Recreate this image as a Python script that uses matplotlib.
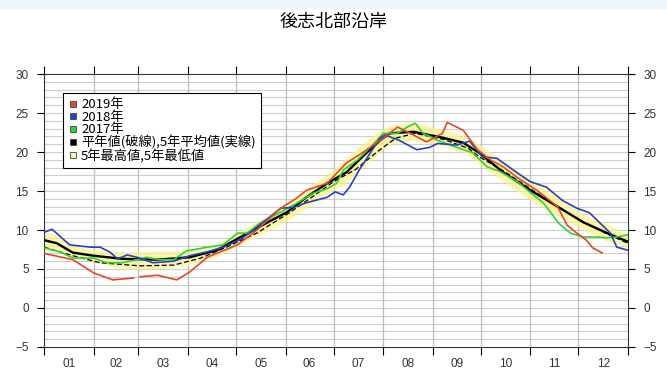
import numpy as np
import matplotlib.pyplot as plt
from matplotlib.lines import Line2D
from matplotlib.patches import Rectangle

plt.rcParams['font.family'] = ['Noto Sans CJK JP', 'DejaVu Sans']

# 月ラベル
months = ["01", "02", "03", "04", "05", "06", "07", "08", "09", "10", "11", "12"]
month_start = [0, 31, 59, 90, 120, 151, 181, 212, 243, 273, 304, 334, 365]

# 2019年 (通日, 水温)
d2019 = [0, 18, 31, 43, 56, 58, 60, 71, 83, 91, 102, 121, 133, 148, 158, 164,
         177, 189, 199, 210, 221, 229, 239, 249, 252, 262, 271, 279, 287, 296,
         308, 321, 327, 333, 339, 343, 349]
t2019 = [7.0, 6.2, 4.5, 3.6, 3.85, np.nan, 4.0, 4.2, 3.6, 4.6, 6.5, 8.1, 10.0,
         12.8, 14.1, 15.1, 16.0, 18.6, 19.9, 21.5, 23.2, 22.4, 21.3, 22.4, 23.8,
         22.8, 20.3, 19.0, 18.1, 16.7, 15.1, 13.0, 10.6, 9.6, 8.7, 7.7, 7.05]

# 2018年
d2018 = [0, 5, 16, 29, 35, 41, 46, 52, 58, 60, 68, 81, 91, 102, 112, 122, 129,
         137, 148, 156, 164, 177, 182, 187, 191, 197, 204, 210, 213, 222, 233,
         241, 246, 258, 266, 274, 283, 296, 304, 314, 324, 333, 341, 349, 354,
         358, 365]
t2018 = [9.7, 10.1, 8.1, 7.8, 7.8, 7.2, 6.3, 6.8, 6.5, 6.4, 5.8, 6.0, 6.7, 7.2,
         7.8, 8.7, 9.7, 11.0, 12.8, 12.9, 13.5, 14.2, 14.9, 14.5, 15.5, 17.7,
         19.9, 21.8, 22.2, 21.5, 20.3, 20.6, 21.1, 20.9, 21.4, 19.4, 19.2, 17.3,
         16.2, 15.5, 13.8, 12.8, 12.2, 10.6, 9.6, 7.8, 7.4]

# 2017年
d2017 = [0, 10, 18, 31, 39, 49, 58, 64, 72, 81, 89, 102, 112, 121, 127, 135,
         148, 156, 168, 177, 183, 187, 196, 204, 212, 221, 227, 232, 237, 246,
         258, 268, 277, 285, 296, 304, 312, 322, 329, 337, 346, 352, 358, 365]
t2017 = [7.7, 7.2, 6.4, 6.4, 5.8, 5.8, 6.2, 6.5, 6.2, 6.2, 7.3, 7.8, 8.1, 9.6,
         9.6, 10.9, 12.3, 13.2, 14.7, 15.3, 16.0, 17.7, 19.0, 20.6, 22.4, 22.4,
         23.2, 23.7, 22.4, 21.5, 20.6, 19.9, 18.1, 17.5, 16.2, 14.8, 13.5, 10.8,
         9.6, 9.1, 9.1, 9.0, 9.1, 9.4]

# 5年平均値・5年最高値・5年最低値
d5 = [0, 8, 18, 31, 49, 71, 91, 108, 122, 139, 152, 164, 177, 189, 199, 210,
      216, 231, 248, 262, 272, 287, 304, 321, 337, 352, 365]
mean5 = [8.7, 8.3, 7.1, 6.7, 6.3, 6.2, 6.5, 7.4, 9.0, 10.9, 12.3, 14.2, 16.0,
         17.4, 19.4, 21.5, 22.4, 22.6, 21.9, 21.2, 19.9, 17.4, 15.1, 13.0, 11.0,
         9.6, 8.5]
max5 = [9.8, 9.4, 8.0, 7.5, 7.2, 7.3, 7.4, 8.2, 9.8, 11.8, 13.3, 15.3, 17.2,
        19.2, 21.0, 22.8, 23.4, 23.8, 23.0, 22.2, 21.0, 18.8, 16.4, 14.3, 12.0,
        10.8, 9.4]
min5 = [7.6, 7.3, 6.4, 6.0, 5.0, 5.0, 5.6, 6.6, 8.0, 9.8, 11.2, 12.8, 14.6,
        16.0, 18.0, 20.0, 21.0, 21.5, 20.8, 20.0, 18.6, 16.2, 13.8, 11.8, 10.0,
        8.6, 7.8]

# 平年値
dnorm = [0, 18, 35, 60, 81, 98, 114, 133, 154, 168, 181, 195, 208, 220, 232,
         250, 265, 272, 287, 304, 321, 337, 352, 365]
tnorm = [7.8, 6.7, 5.8, 5.4, 5.5, 6.4, 7.8, 9.6, 12.3, 14.3, 16.2, 17.8, 20.0,
         21.8, 22.4, 21.6, 20.5, 19.4, 17.6, 15.3, 13.0, 11.0, 9.5, 8.3]

fig = plt.figure(figsize=(6.67, 3.80), dpi=100)
fig.patches.append(Rectangle((0, 0.978), 1, 0.022, transform=fig.transFigure,
                             color='#eef5fb', zorder=0))
ax = fig.add_axes([0.066, 0.087, 0.8755, 0.718])

# 帯 (5年最高値〜最低値)
ax.fill_between(d5, min5, max5, color='#fbf28c', alpha=0.7, lw=0, zorder=2)

ax.plot(dnorm, tnorm, color='black', lw=0.9, ls=(0, (4, 2)), zorder=4)
ax.plot(d5, mean5, color='black', lw=1.7, zorder=4)
ax.plot(d2017, t2017, color='#2ed52e', lw=1.2, zorder=5)
ax.plot(d2018, t2018, color='#2840c8', lw=1.2, zorder=5)
ax.plot(d2019, t2019, color='#e2482a', lw=1.2, zorder=6)

ax.set_xlim(0, 365)
ax.set_ylim(-5, 30)

# 横グリッド (1度毎)
for v in range(-4, 30):
    ax.axhline(v, color='#cdcdcd', lw=0.8, zorder=1)
for m in month_start[1:-1]:
    ax.axvline(m, color='#bdbdbd', lw=0.9, zorder=1)

ax.set_yticks(range(-5, 31, 5))
ax.set_xticks(month_start)
ax.set_xticklabels([])
ax.set_xticks([(month_start[i] + month_start[i + 1]) / 2 for i in range(12)],
              minor=True)
ax.set_xticklabels(months, minor=True, fontsize=8.5, family='Liberation Sans',
                   color='#333333')
ax.tick_params(axis='x', which='minor', length=0, pad=8)
ax.tick_params(axis='x', which='major', direction='out', length=6, top=True,
               width=0.8)
ax.tick_params(axis='y', direction='out', length=5, right=True, labelright=True,
               width=0.8, labelsize=8.5, pad=6, labelcolor='#333333')
for lab in ax.get_yticklabels():
    lab.set_family('Liberation Sans')
for s in ax.spines.values():
    s.set_linewidth(0.8)
    s.set_color('#333333')

fig.text(0.5, 0.942, "後志北部沿岸", ha='center', va='center', fontsize=13)

handles = [
    Line2D([], [], ls='none', marker='s', ms=5, mfc='#e2482a', mec='#444444', mew=0.6),
    Line2D([], [], ls='none', marker='s', ms=5, mfc='#2840c8', mec='#444444', mew=0.6),
    Line2D([], [], ls='none', marker='s', ms=5, mfc='#2ed52e', mec='#444444', mew=0.6),
    Line2D([], [], ls='none', marker='s', ms=5, mfc='black', mec='#444444', mew=0.6),
    Line2D([], [], ls='none', marker='s', ms=5, mfc='#fbf6b0', mec='#444444', mew=0.6),
]
labels = ["2019年", "2018年", "2017年", "平年値(破線),5年平均値(実線)",
          "5年最高値,5年最低値"]
leg = ax.legend(handles, labels, loc='upper left', bbox_to_anchor=(0.032, 0.93),
                fontsize=9.5, frameon=True, fancybox=False, framealpha=1,
                edgecolor='black', handlelength=0.7, handletextpad=0.3,
                labelspacing=-0.05, borderpad=0.4, borderaxespad=0)
leg.get_frame().set_linewidth(0.8)
leg.set_zorder(10)

fig.savefig("out.png", dpi=100)
